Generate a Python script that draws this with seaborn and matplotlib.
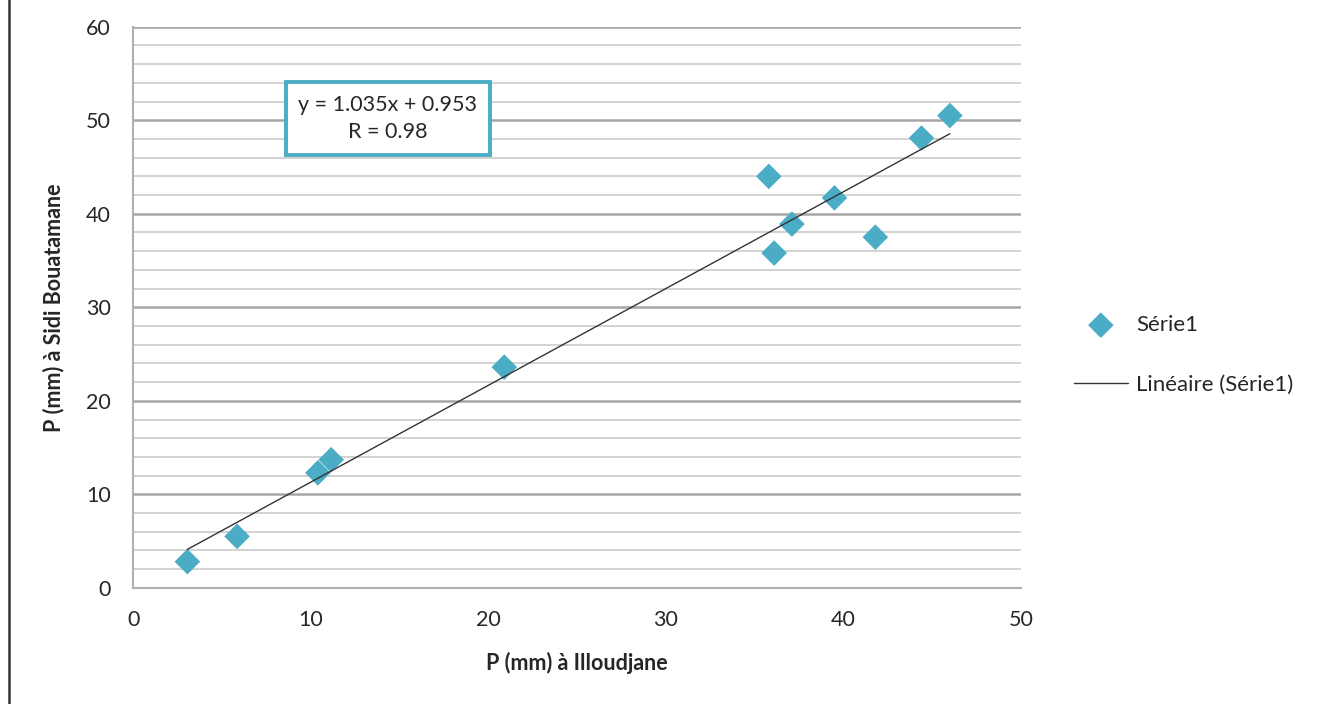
import numpy as np
import pandas as pd
import matplotlib
matplotlib.use("Agg")
import matplotlib.pyplot as plt
import seaborn as sns
from matplotlib.lines import Line2D
from matplotlib.ticker import MultipleLocator

# Data
x_illoudjane = [3.05, 5.85, 10.4, 11.15, 20.9, 35.8, 36.1, 37.1, 39.5, 41.8, 44.4, 46.0]
y_sidi = [2.8, 5.5, 12.3, 13.7, 23.6, 44.0, 35.8, 38.9, 41.7, 37.5, 48.1, 50.5]
slope = 1.035
intercept = 0.953
eq_text = "y = 1.035x + 0.953\nR = 0.98"
series_label = "Série1"
trend_label = "Linéaire (Série1)"
x_label = "P (mm) à Illoudjane"
y_label = "P (mm) à Sidi Bouatamane"

sns.set_theme(style="white")
plt.rcParams['font.family'] = ['Lato', 'DejaVu Sans']

FS = 15.5
fig = plt.figure(figsize=(13.19, 7.04), dpi=100)
ax = fig.add_axes([0.101, 0.165, 0.673, 0.797])

df = pd.DataFrame({"x": x_illoudjane, "y": y_sidi})
xs = np.array([min(x_illoudjane), max(x_illoudjane)])
trend = pd.DataFrame({"x": xs, "y": slope * xs + intercept})

sns.scatterplot(data=df, x="x", y="y", marker="D", s=170, color="#4BACC6",
                edgecolor="none", ax=ax, label=series_label, zorder=3)
sns.lineplot(data=trend, x="x", y="y", color="#333333", lw=1.0, ax=ax,
             label=trend_label, zorder=4)

ax.set_xlim(0, 50)
ax.set_ylim(0, 60)
ax.xaxis.set_major_locator(MultipleLocator(10))
ax.yaxis.set_major_locator(MultipleLocator(10))
ax.yaxis.set_minor_locator(MultipleLocator(2))
ax.grid(which="major", axis="y", color="#A6A6A6", lw=1.8)
ax.grid(which="minor", axis="y", color="#CFCFCF", lw=1.3)
ax.grid(axis="x", visible=False)
ax.set_axisbelow(True)
for s in ["top", "right"]:
    ax.spines[s].set_visible(False)
for s in ["left", "bottom"]:
    ax.spines[s].set_color("#B0B0B0")
    ax.spines[s].set_linewidth(1.5)
ax.tick_params(axis="both", which="major", direction="out", length=7, width=1.5,
               color="#B0B0B0", labelsize=FS, labelcolor="#262626", pad=9)
ax.tick_params(axis="y", which="minor", length=0)

ax.set_xlabel(x_label, fontsize=FS, fontweight="bold", color="#262626", labelpad=16)
ax.set_ylabel(y_label, fontsize=FS, fontweight="bold", color="#262626", labelpad=16)

ax.text(14.35, 50.2, eq_text, ha="center", va="center", fontsize=FS,
        color="#262626", linespacing=1.45,
        bbox=dict(boxstyle="square,pad=0.6", fc="white", ec="#4BACC6", lw=2.8),
        zorder=5)

leg = ax.legend(loc="center left", bbox_to_anchor=(1.05, 0.415), frameon=False,
                fontsize=16, handlelength=2.4, handletextpad=0.4,
                labelspacing=1.8, borderaxespad=0)
for t in leg.get_texts():
    t.set_color("#262626")

fig.add_artist(Line2D([0.0065, 0.0065], [0, 1], color="#333333", lw=1.8,
                      transform=fig.transFigure))

fig.savefig("out.png", dpi=100)
